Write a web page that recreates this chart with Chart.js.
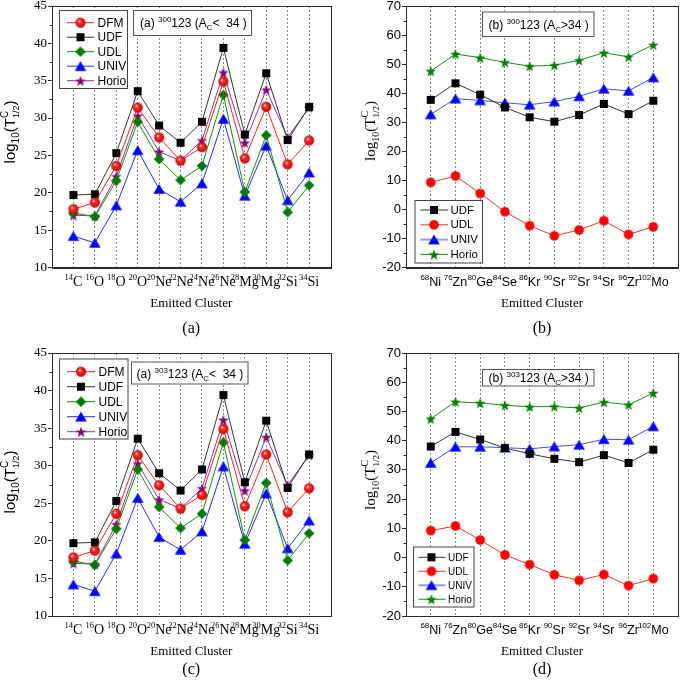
<!DOCTYPE html>
<html>
<head>
<meta charset="utf-8">
<script src="https://cdn.jsdelivr.net/npm/chart.js@4.4.1/dist/chart.umd.min.js"></script>
<style>
  html, body { margin: 0; padding: 0; background: #fff; }
  #wrap { position: relative; width: 684px; height: 680px; }
  canvas { position: absolute; }
</style>
</head>
<body>
<div id="wrap">
  <canvas id="cA" width="342" height="340" style="left:0;top:0"></canvas>
  <canvas id="cB" width="342" height="340" style="left:342px;top:0"></canvas>
  <canvas id="cC" width="342" height="340" style="left:0;top:340px"></canvas>
  <canvas id="cD" width="342" height="340" style="left:342px;top:340px"></canvas>
</div>
<script>
const SERIF = '"Liberation Serif", "Times New Roman", serif';
const SANS = '"Liberation Sans", Arial, sans-serif';

// ---- light clusters (A_c < 34), panels (a) and (c) show the same values ----
const massA = ['14', '16', '18', '20', '20', '22', '24', '26', '28', '30', '32', '34'];
const elemA = ['C', 'O', 'O', 'O', 'Ne', 'Ne', 'Ne', 'Ne', 'Mg', 'Mg', 'Si', 'Si'];
const dfmA   = [17.8, 18.7, 23.6, 31.4, 27.4, 24.3, 26.1, 34.9, 24.6, 31.5, 23.8, 27.0];
const udfA   = [19.7, 19.8, 25.3, 33.6, 29.0, 26.7, 29.5, 39.4, 27.8, 36.0, 27.05, 31.5];
const udlA   = [17.3, 16.8, 21.6, 29.5, 24.5, 21.7, 23.6, 33.1, 20.1, 27.7, 17.4, 21.0];
const univA  = [14.2, 13.3, 18.3, 25.7, 20.5, 18.8, 21.25, 29.9, 19.6, 26.3, 19.0, 22.7];
const horioA = [17.0, 16.9, 22.2, 30.3, 25.5, 24.3, 27.0, 36.1, 26.7, 33.8, 27.4, 31.4];
const yTicksA = [10, 15, 20, 25, 30, 35, 40, 45];

// ---- heavy clusters (A_c > 34), panels (b) and (d) ----
const massB = ['68', '76', '80', '84', '86', '90', '92', '94', '96', '102'];
const elemB = ['Ni', 'Zn', 'Ge', 'Se', 'Kr', 'Sr', 'Sr', 'Sr', 'Zr', 'Mo'];
const udfB   = [37.7, 43.4, 39.5, 35.1, 31.7, 30.2, 32.5, 36.3, 32.8, 37.4];
const udlB   = [9.3, 11.5, 5.5, -0.8, -5.6, -9.1, -7.1, -3.9, -8.6, -6.0];
const univB  = [32.7, 38.1, 37.5, 36.7, 36.0, 37.1, 38.9, 41.5, 40.8, 45.4];
const horioB = [47.6, 53.5, 52.2, 50.6, 49.3, 49.6, 51.3, 53.9, 52.5, 56.6];
const udfD   = [38.0, 43.0, 40.4, 37.5, 35.5, 33.8, 32.65, 35.05, 32.4, 36.9];
const udlD   = [9.2, 10.8, 6.0, 0.9, -2.4, -5.9, -7.8, -5.8, -9.6, -7.2];
const univD  = [32.4, 37.9, 37.9, 37.6, 37.2, 38.0, 38.6, 40.5, 40.3, 44.9];
const horioD = [47.5, 53.3, 52.9, 52.1, 51.6, 51.7, 51.2, 53.2, 52.3, 56.3];
const yTicksB = [-20, -10, 0, 10, 20, 30, 40, 50, 60, 70];

const W = 342, H = 340;

// small canvases used as point styles (filled star / shaded ball are not built in)
function makeMarker(shape, color) {
  const c = document.createElement('canvas');
  c.width = 14; c.height = 14;
  const g = c.getContext('2d');
  const m = 7;
  g.fillStyle = color;
  g.beginPath();
  if (shape === 'square') {
    g.rect(m - 4, m - 4, 8, 8);
  } else if (shape === 'circle' || shape === 'ball') {
    g.arc(m, m, 4.8, 0, Math.PI * 2);
  } else if (shape === 'diamond') {
    g.moveTo(m, m - 5.3); g.lineTo(m + 5.3, m); g.lineTo(m, m + 5.3); g.lineTo(m - 5.3, m); g.closePath();
  } else if (shape === 'triangle') {
    g.moveTo(m, m - 5); g.lineTo(m + 5.8, m + 4.7); g.lineTo(m - 5.8, m + 4.7); g.closePath();
  } else if (shape === 'star') {
    for (let k = 0; k < 10; k++) {
      const r = k % 2 ? 2.3 : 5.6;
      const a = -Math.PI / 2 + k * Math.PI / 5;
      const px = m + r * Math.cos(a), py = m + 0.6 + r * Math.sin(a);
      if (k === 0) g.moveTo(px, py); else g.lineTo(px, py);
    }
    g.closePath();
  }
  if (shape === 'ball') {
    const grd = g.createRadialGradient(m - 1.6, m - 1.8, 0.2, m, m, 4.9);
    grd.addColorStop(0, '#fff0f0');
    grd.addColorStop(0.35, '#ff2b2b');
    grd.addColorStop(1, '#d40000');
    g.fillStyle = grd;
  }
  g.fill();
  if (shape === 'ball') { g.strokeStyle = '#c00000'; g.lineWidth = 0.6; g.stroke(); }
  return c;
}

function lightSeries(dfm, udf, udl, univ, horio) {
  return [
    { label: 'DFM', data: dfm, line: '#ff2020', marker: makeMarker('ball', '#ff0000') },
    { label: 'UDF', data: udf, line: '#333333', marker: makeMarker('square', '#000000') },
    { label: 'UDL', data: udl, line: '#109010', marker: makeMarker('diamond', '#007a00') },
    { label: 'UNIV', data: univ, line: '#2a2aff', marker: makeMarker('triangle', '#0000ff') },
    { label: 'Horio', data: horio, line: '#993399', marker: makeMarker('star', '#7a0a7a') },
  ];
}

function heavySeries(udf, udl, univ, horio) {
  return [
    { label: 'UDF', data: udf, line: '#333333', marker: makeMarker('square', '#000000') },
    { label: 'UDL', data: udl, line: '#ff3030', marker: makeMarker('circle', '#ff0000') },
    { label: 'UNIV', data: univ, line: '#4a4aff', marker: makeMarker('triangle', '#0000ff'), legendLine: '#9999ff', legendWidth: 2 },
    { label: 'Horio', data: horio, line: '#159015', marker: makeMarker('star', '#008000') },
  ];
}

// draws a run of text pieces (sup/sub by font + dy); "stay" pieces do not advance
function drawRich(ctx, parts, x, y, align) {
  let w = 0;
  parts.forEach(p => {
    ctx.font = p.f;
    p.w = ctx.measureText(p.t).width;
    if (!p.stay) w += p.w;
  });
  let cx = align === 'center' ? x - w / 2 : x;
  ctx.textAlign = 'left';
  ctx.textBaseline = 'alphabetic';
  parts.forEach(p => {
    ctx.font = p.f;
    ctx.fillText(p.t, cx, y + (p.dy || 0));
    if (!p.stay) cx += p.w;
  });
}

function yTitleParts(fam) {
  return [
    { t: 'log', f: '15px ' + fam },
    { t: '10', f: '10px ' + fam, dy: 4 },
    { t: '(T', f: '15px ' + fam },
    { t: 'C', f: '10px ' + fam, dy: -7, stay: true },
    { t: '1/2', f: '9px ' + fam, dy: 4 },
    { t: ')', f: '15px ' + fam },
  ];
}

function noteParts(tag, parent, rel) {
  return [
    { t: tag + ' ', f: '12px ' + SANS },
    { t: parent, f: '8px ' + SANS, dy: -5 },
    { t: '123 (A', f: '12px ' + SANS },
    { t: 'C', f: '8px ' + SANS, dy: 3 },
    { t: rel, f: '12px ' + SANS },
  ];
}

function makePanel(cfg) {
  const n = cfg.mass.length;
  const yMin = cfg.yTicks[0], yMax = cfg.yTicks[cfg.yTicks.length - 1];
  const yStep = cfg.yTicks[1] - cfg.yTicks[0];

  const decor = {
    id: 'decor',
    afterDraw(chart) {
      const { ctx, chartArea: a } = chart;
      const xs = chart.scales.x, ys = chart.scales.y;
      ctx.save();

      // frame
      ctx.strokeStyle = '#2a2a2a';
      ctx.lineWidth = 1;
      ctx.strokeRect(Math.round(a.left) + 0.5, Math.round(a.top) + 0.5,
        Math.round(a.right) - Math.round(a.left), Math.round(a.bottom) - Math.round(a.top));

      // minor ticks on the y axis
      ctx.beginPath();
      for (let v = yMin + yStep / 2; v < yMax; v += yStep) {
        const py = Math.round(ys.getPixelForValue(v)) + 0.5;
        ctx.moveTo(a.left, py);
        ctx.lineTo(a.left - 2.5, py);
      }
      ctx.stroke();

      // cluster labels with mass-number superscripts
      ctx.fillStyle = '#000';
      cfg.mass.forEach((m, i) => {
        const px = xs.getPixelForValue(i + 1);
        drawRich(ctx, [
          { t: m, f: cfg.xLab.sup, dy: -cfg.xLab.raise },
          { t: cfg.elem[i], f: cfg.xLab.main },
        ], px, a.bottom + cfg.xLab.dy, 'center');
      });

      const midX = (a.left + a.right) / 2;
      ctx.textAlign = 'center';
      ctx.font = '13px ' + SERIF;
      ctx.fillText('Emitted Cluster', midX, cfg.xTitleY);
      ctx.font = '16px ' + SERIF;
      ctx.fillText(cfg.caption, midX, cfg.captionY);

      // y title
      ctx.save();
      ctx.translate(cfg.yTitle.x, cfg.yTitle.y);
      ctx.rotate(-Math.PI / 2);
      drawRich(ctx, yTitleParts(cfg.yTitle.font), 0, 0, 'center');
      ctx.restore();

      // legend
      const L = cfg.legend;
      ctx.fillStyle = '#fff';
      ctx.fillRect(L.x, L.y, L.w, L.h);
      ctx.strokeStyle = '#444';
      ctx.strokeRect(L.x + 0.5, L.y + 0.5, L.w, L.h);
      cfg.series.forEach((s, i) => {
        const ry = L.row0 + i * L.gap;
        ctx.strokeStyle = s.legendLine || s.line;
        ctx.lineWidth = s.legendWidth || 1;
        ctx.beginPath();
        ctx.moveTo(L.lx0, ry);
        ctx.lineTo(L.lx1, ry);
        ctx.stroke();
        ctx.drawImage(s.marker, L.mx - s.marker.width / 2, ry - s.marker.height / 2);
        ctx.fillStyle = '#000';
        ctx.font = L.font;
        ctx.textAlign = 'left';
        ctx.textBaseline = 'middle';
        ctx.fillText(s.label, L.tx, ry + 0.5);
      });

      // note box
      const N = cfg.note;
      ctx.lineWidth = 1;
      ctx.fillStyle = '#fff';
      ctx.fillRect(N.x, N.y, N.w, N.h);
      ctx.strokeStyle = '#555';
      ctx.strokeRect(N.x + 0.5, N.y + 0.5, N.w, N.h);
      ctx.fillStyle = '#000';
      drawRich(ctx, N.parts, N.tx, N.ty, 'left');

      ctx.restore();
    },
  };

  return new Chart(document.getElementById(cfg.canvas), {
    type: 'line',
    data: {
      datasets: cfg.series.map(s => ({
        label: s.label,
        data: s.data.map((v, i) => ({ x: i + 1, y: v })),
        borderColor: s.line,
        borderWidth: 1,
        pointStyle: s.marker,
        pointRadius: 5,
        tension: 0,
        fill: false,
      })),
    },
    plugins: [decor],
    options: {
      responsive: false,
      animation: false,
      events: [],
      layout: { padding: { top: cfg.area.top, right: W - cfg.area.right, bottom: 0, left: 0 } },
      plugins: { legend: { display: false }, tooltip: { enabled: false } },
      scales: {
        x: {
          type: 'linear',
          min: 0,
          max: n + 1,
          ticks: { display: false, stepSize: 1, maxTicksLimit: 40 },
          grid: {
            color: c => (c.tick && c.tick.value > 0 && c.tick.value < n + 1) ? '#8a8a8a' : 'rgba(0,0,0,0)',
            lineWidth: 1,
            drawTicks: false,
          },
          border: { color: '#2a2a2a', dash: [2, 2] },
          afterFit: s => { s.height = H - cfg.area.bottom; s.paddingLeft = 0; s.paddingRight = 0; },
        },
        y: {
          type: 'linear',
          min: yMin,
          max: yMax,
          ticks: { stepSize: yStep, color: '#000', font: cfg.yFont, padding: 1 },
          grid: { drawOnChartArea: false, tickLength: 4, tickColor: '#2a2a2a', color: '#2a2a2a' },
          border: { color: '#2a2a2a' },
          afterFit: s => { s.width = cfg.area.left; s.paddingTop = 0; s.paddingBottom = 0; },
        },
      },
    },
  });
}

makePanel({
  canvas: 'cA', mass: massA, elem: elemA, yTicks: yTicksA,
  series: lightSeries(dfmA, udfA, udlA, univA, horioA),
  area: { left: 52, right: 330.5, top: 6, bottom: 267.5 },
  yFont: { family: SERIF, size: 13 },
  xLab: { main: '14px ' + SERIF, sup: '8.5px ' + SERIF, raise: 6, dy: 18.5 },
  yTitle: { x: 15, y: 132, font: SANS },
  xTitleY: 307, caption: '(a)', captionY: 333,
  legend: { x: 59, y: 10, w: 68, h: 78, row0: 22.7, gap: 14.5, lx0: 67, lx1: 94, mx: 80.5, tx: 97.5, font: '12px ' + SANS },
  note: { x: 133, y: 10, w: 118, h: 25, tx: 140, ty: 27, parts: noteParts('(a)', '300', '<  34 )') },
});

makePanel({
  canvas: 'cB', mass: massB, elem: elemB, yTicks: yTicksB,
  series: heavySeries(udfB, udlB, univB, horioB),
  area: { left: 64, right: 340.5, top: 6, bottom: 267.5 },
  yFont: { family: SANS, size: 13 },
  xLab: { main: '12.5px ' + SANS, sup: '8px ' + SANS, raise: 5.5, dy: 18 },
  yTitle: { x: 33, y: 131, font: SERIF },
  xTitleY: 307, caption: '(b)', captionY: 333,
  legend: { x: 72.5, y: 200, w: 67.5, h: 62.5, row0: 210, gap: 14.8, lx0: 78.5, lx1: 106, mx: 92, tx: 108.5, font: '11.5px ' + SANS },
  note: { x: 140, y: 11.5, w: 111.5, h: 24.5, tx: 146.5, ty: 29, parts: noteParts('(b)', '300', '>34 )') },
});

makePanel({
  canvas: 'cC', mass: massA, elem: elemA, yTicks: yTicksA,
  series: lightSeries(dfmA, udfA, udlA, univA, horioA),
  area: { left: 52, right: 330.5, top: 13, bottom: 276 },
  yFont: { family: SERIF, size: 13 },
  xLab: { main: '14px ' + SERIF, sup: '8.5px ' + SERIF, raise: 6, dy: 17.5 },
  yTitle: { x: 15, y: 142, font: SANS },
  xTitleY: 315, caption: '(c)', captionY: 334,
  legend: { x: 59, y: 18.5, w: 68.5, h: 80, row0: 31.7, gap: 15, lx0: 67, lx1: 95, mx: 81, tx: 98.5, font: '12px ' + SANS },
  note: { x: 131, y: 21.5, w: 116.5, h: 22, tx: 136.5, ty: 37.5, parts: noteParts('(a)', '303', '<  34 )') },
});

makePanel({
  canvas: 'cD', mass: massB, elem: elemB, yTicks: yTicksB,
  series: heavySeries(udfD, udlD, univD, horioD),
  area: { left: 64, right: 340.5, top: 13, bottom: 276 },
  yFont: { family: SANS, size: 13 },
  xLab: { main: '12.5px ' + SANS, sup: '8px ' + SANS, raise: 5.5, dy: 17.5 },
  yTitle: { x: 33, y: 140, font: SERIF },
  xTitleY: 315, caption: '(d)', captionY: 334,
  legend: { x: 71, y: 206.5, w: 60.5, h: 60, row0: 217.3, gap: 14, lx0: 76.5, lx1: 103.5, mx: 89.5, tx: 106, font: '10px ' + SANS },
  note: { x: 140, y: 29, w: 111.5, h: 16.5, tx: 146.5, ty: 41.5, parts: noteParts('(b)', '303', '>34 )') },
});
</script>
</body>
</html>
